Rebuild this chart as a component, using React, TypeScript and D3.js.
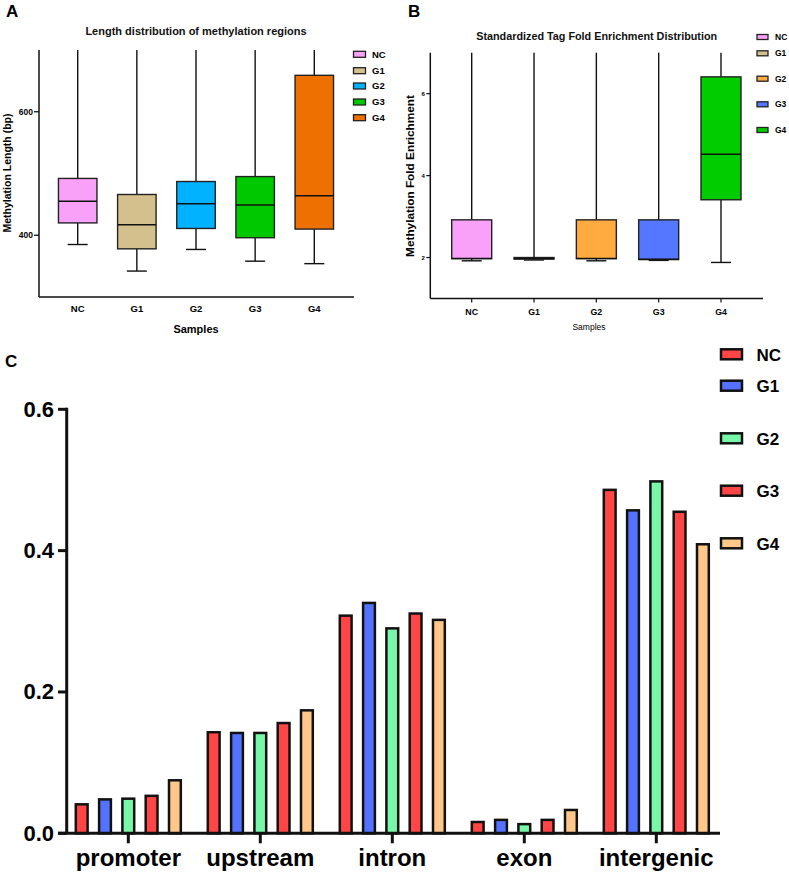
import React from "react";
import * as d3 from "d3";

const samples = ["NC", "G1", "G2", "G3", "G4"];

// Panel A: length distribution (bp)
const lenMin = [385, 342, 377, 358, 354];
const lenQ1 = [420, 378, 411, 396, 410];
const lenMed = [455, 417, 451, 449, 464];
const lenQ3 = [492, 466, 487, 495, 659];
const lenMax = [700, 700, 700, 700, 700];
const lenTicks = [400, 600];
const colorsA = ["#f9a0f8", "#d4c08c", "#00b2ff", "#00c800", "#ee7000"];

// Panel B: fold enrichment
const feMin = [1.92, 1.94, 1.92, 1.93, 1.88];
const feQ1 = [1.97, 1.96, 1.97, 1.95, 3.41];
const feMed = [1.98, 1.98, 1.98, 1.96, 4.52];
const feQ3 = [2.92, 2.0, 2.92, 2.92, 6.41];
const feMax = [7, 7, 7, 7, 7];
const feTicks = [2, 4, 6];
const colorsB = ["#f9a0f8", "#d4c08c", "#ffab40", "#5577ff", "#00cc00"];

// Panel C: genomic region distribution
const regions = ["promoter", "upstream", "intron", "exon", "intergenic"];
const valNC = [0.041, 0.143, 0.308, 0.016, 0.486];
const valG1 = [0.048, 0.142, 0.326, 0.019, 0.457];
const valG2 = [0.049, 0.142, 0.290, 0.013, 0.498];
const valG3 = [0.053, 0.156, 0.311, 0.019, 0.455];
const valG4 = [0.075, 0.174, 0.302, 0.033, 0.409];
const cTicks = [0.0, 0.2, 0.4, 0.6];
const colorsC = ["#ff4545", "#5572ff", "#78f7a8", "#ff4545", "#ffc78a"];

const FONT = "'Liberation Sans', Arial, Helvetica, sans-serif";

type BoxProps = {
  x: d3.ScalePoint<string>;
  y: d3.ScaleLinear<number, number>;
  mins: number[];
  q1: number[];
  med: number[];
  q3: number[];
  maxs: number[];
  colors: string[];
  bw: number;
  capW: number;
};

function Boxes({ x, y, mins, q1, med, q3, maxs, colors, bw, capW }: BoxProps) {
  return (
    <g>
      {samples.map((s, i) => {
        const cx = x(s)!;
        return (
          <g key={s}>
            <line x1={cx} x2={cx} y1={y(maxs[i])} y2={y(q3[i])} stroke="#111" strokeWidth={1.4} />
            <line x1={cx} x2={cx} y1={y(q1[i])} y2={y(mins[i])} stroke="#111" strokeWidth={1.4} />
            <line x1={cx - capW / 2} x2={cx + capW / 2} y1={y(mins[i])} y2={y(mins[i])} stroke="#111" strokeWidth={1.4} />
            <rect x={cx - bw / 2} y={y(q3[i])} width={bw} height={Math.max(0.5, y(q1[i]) - y(q3[i]))}
              fill={colors[i]} stroke="#222" strokeWidth={1.4} />
            <line x1={cx - bw / 2} x2={cx + bw / 2} y1={y(med[i])} y2={y(med[i])} stroke="#111" strokeWidth={1.4} />
          </g>
        );
      })}
    </g>
  );
}

export default function App() {
  // Panel A scales
  const yA = d3.scaleLinear().domain([300, 700]).range([297, 50]);
  const xA = d3.scalePoint<string>().domain(samples).range([77.7, 314.3]);
  const axA = { left: 39, right: 354, top: 50, bottom: 297 };

  // Panel B scales
  const yB = d3.scaleLinear().domain([1, 7]).range([298.5, 52.7]);
  const xB = d3.scalePoint<string>().domain(samples).range([471.7, 721]);
  const axB = { left: 430.3, right: 763, top: 52.7, bottom: 298.5 };

  // Panel C scales
  const yC = d3.scaleLinear().domain([0, 0.6]).range([833.3, 409.3]);
  const xC = d3.scaleBand<string>().domain(regions).range([62.3, 722.3]);
  const xSub = d3.scalePoint<string>().domain(samples).range([-46.6, 46.6]);
  const seriesC = [valNC, valG1, valG2, valG3, valG4];
  const barW = 11.8;

  const legA = [54.3, 70.7, 86, 102, 117.7];
  const legB = [37, 53.3, 78.7, 104.3, 130];
  const legC = [354.3, 385.7, 438.3, 490.7, 543.3];

  return (
    <svg width={789} height={874} style={{ position: "absolute", left: 0, top: 0, background: "#fff" }} fontFamily={FONT}>
      <rect x={0} y={0} width={789} height={874} fill="#fff" />

      {/* ---------- Panel A ---------- */}
      <text x={6} y={17} fontSize={17} fontWeight="bold">A</text>
      <text x={196} y={35} fontSize={11} fontWeight="bold" textAnchor="middle" fill="#111">
        Length distribution of methylation regions
      </text>
      <Boxes x={xA} y={yA} mins={lenMin} q1={lenQ1} med={lenMed} q3={lenQ3} maxs={lenMax}
        colors={colorsA} bw={38.5} capW={20} />
      <line x1={axA.left} x2={axA.left} y1={axA.top} y2={axA.bottom} stroke="#111" strokeWidth={1.5} />
      <line x1={axA.left} x2={axA.right} y1={axA.bottom} y2={axA.bottom} stroke="#111" strokeWidth={1.5} />
      {lenTicks.map((t) => (
        <g key={t}>
          <line x1={axA.left - 5} x2={axA.left} y1={yA(t)} y2={yA(t)} stroke="#111" strokeWidth={1.3} />
          <text x={axA.left - 6} y={yA(t) + 3} fontSize={8.5} fontWeight="bold" textAnchor="end">{t}</text>
        </g>
      ))}
      {samples.map((s) => (
        <text key={s} x={xA(s)} y={311.5} fontSize={9.5} fontWeight="bold" textAnchor="middle">{s}</text>
      ))}
      <text x={196} y={333} fontSize={11} fontWeight="bold" textAnchor="middle">Samples</text>
      <text transform={`translate(11,173) rotate(-90)`} fontSize={10.5} fontWeight="bold" textAnchor="middle">
        Methylation Length (bp)
      </text>
      {samples.map((s, i) => (
        <g key={s}>
          <rect x={353.5} y={legA[i] - 3} width={12} height={6} fill={colorsA[i]} stroke="#222" strokeWidth={1.3} />
          <text x={372} y={legA[i] + 3.3} fontSize={9.5} fontWeight="bold">{s}</text>
        </g>
      ))}

      {/* ---------- Panel B ---------- */}
      <text x={408} y={17} fontSize={17} fontWeight="bold">B</text>
      <text x={596.7} y={39.5} fontSize={10.8} fontWeight="bold" textAnchor="middle" fill="#111">
        Standardized Tag Fold Enrichment Distribution
      </text>
      <Boxes x={xB} y={yB} mins={feMin} q1={feQ1} med={feMed} q3={feQ3} maxs={feMax}
        colors={colorsB} bw={40} capW={20} />
      <line x1={axB.left} x2={axB.left} y1={axB.top} y2={axB.bottom} stroke="#111" strokeWidth={1.5} />
      <line x1={axB.left} x2={axB.right} y1={axB.bottom} y2={axB.bottom} stroke="#111" strokeWidth={1.5} />
      {feTicks.map((t) => (
        <g key={t}>
          <line x1={axB.left - 4} x2={axB.left} y1={yB(t)} y2={yB(t)} stroke="#111" strokeWidth={1.2} />
          <text x={axB.left - 5.5} y={yB(t) + 2} fontSize={6} fontWeight="bold" textAnchor="end">{t}</text>
        </g>
      ))}
      {samples.map((s) => (
        <g key={s}>
          <line x1={xB(s)} x2={xB(s)} y1={axB.bottom} y2={axB.bottom + 4} stroke="#111" strokeWidth={1.2} />
          <text x={xB(s)} y={315} fontSize={8.8} fontWeight="bold" textAnchor="middle">{s}</text>
        </g>
      ))}
      <text x={589} y={330} fontSize={8.5} textAnchor="middle">Samples</text>
      <text transform={`translate(414,176) rotate(-90)`} fontSize={11.8} fontWeight="bold" textAnchor="middle">
        Methylation Fold Enrichment
      </text>
      {samples.map((s, i) => (
        <g key={s}>
          <rect x={757} y={legB[i] - 2.5} width={11} height={5} fill={colorsB[i]} stroke="#222" strokeWidth={1.3} />
          <text x={775} y={legB[i] + 3} fontSize={8.5} fontWeight="bold">{s}</text>
        </g>
      ))}

      {/* ---------- Panel C ---------- */}
      <text x={5} y={367} fontSize={17} fontWeight="bold">C</text>
      {regions.map((r, ri) => (
        <g key={r}>
          {samples.map((s, si) => {
            const cx = xC(r)! + xC.bandwidth() / 2 + xSub(s)!;
            const v = seriesC[si][ri];
            return (
              <rect key={s} x={cx - barW / 2} y={yC(v)} width={barW} height={yC(0) - yC(v)}
                fill={colorsC[si]} stroke="#111" strokeWidth={2.5} />
            );
          })}
        </g>
      ))}
      <line x1={66.7} x2={66.7} y1={yC(0.6) - 1.5} y2={yC(0)} stroke="#111" strokeWidth={3} />
      <line x1={58} x2={720} y1={yC(0)} y2={yC(0)} stroke="#111" strokeWidth={3} />
      {cTicks.map((t) => (
        <g key={t}>
          <line x1={58} x2={66.7} y1={yC(t)} y2={yC(t)} stroke="#111" strokeWidth={3} />
          <text x={54} y={yC(t) + 7.5} fontSize={22} fontWeight="bold" textAnchor="end">{t.toFixed(1)}</text>
        </g>
      ))}
      {regions.map((r) => {
        const cx = xC(r)! + xC.bandwidth() / 2;
        return (
          <g key={r}>
            <line x1={cx} x2={cx} y1={yC(0)} y2={yC(0) + 10} stroke="#111" strokeWidth={3} />
            <text x={cx} y={866} fontSize={24} fontWeight="bold" textAnchor="middle">{r}</text>
          </g>
        );
      })}
      {samples.map((s, i) => (
        <g key={s}>
          <rect x={721} y={legC[i] - 5} width={21} height={10} fill={colorsC[i]} stroke="#111" strokeWidth={2.5} />
          <text x={756.5} y={legC[i] + 6.3} fontSize={17} fontWeight="bold">{s}</text>
        </g>
      ))}
    </svg>
  );
}
